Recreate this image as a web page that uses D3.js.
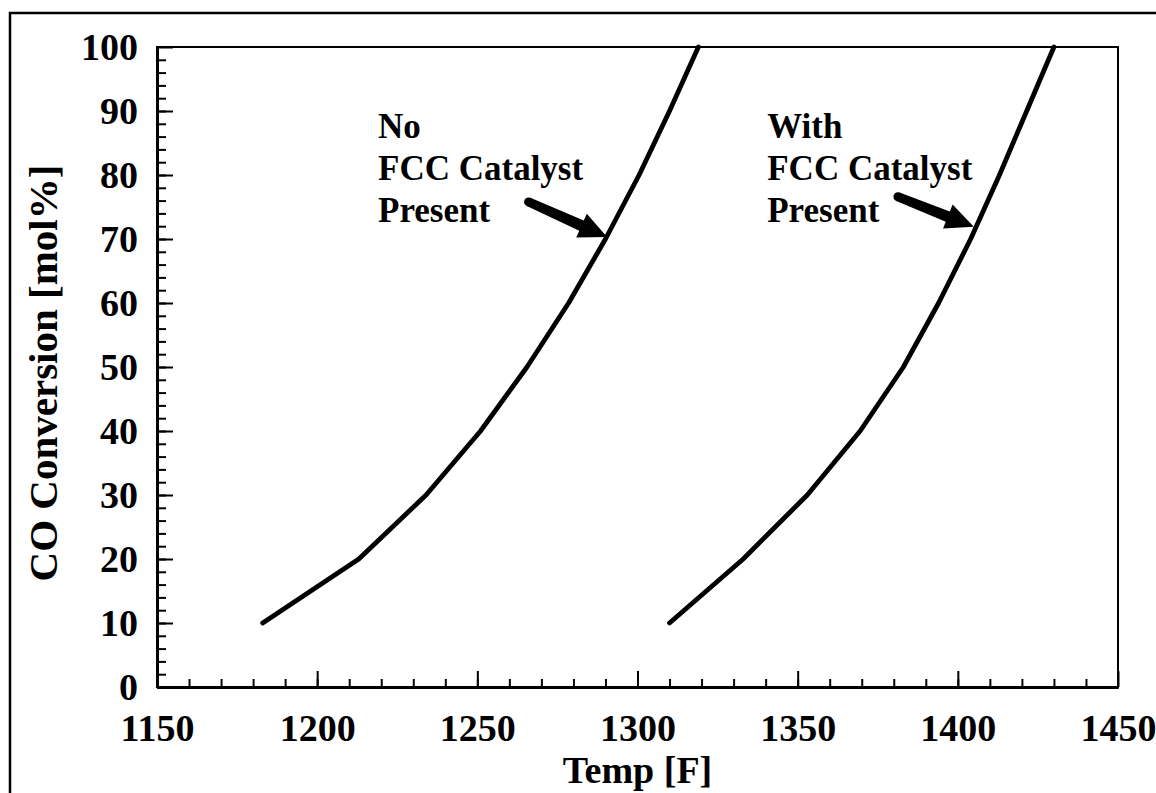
<!DOCTYPE html>
<html>
<head>
<meta charset="utf-8">
<script src="https://cdn.jsdelivr.net/npm/d3@7"></script>
<style>
  body { margin: 0; background: #fff; }
  text { font-family: "Liberation Serif", "Times New Roman", serif; font-weight: bold; fill: #000; }
</style>
</head>
<body>
<svg id="chart" width="1156" height="793"></svg>
<script>
// CO conversion vs. temperature, with and without FCC catalyst
const convLevels = [10, 20, 30, 40, 50, 60, 70, 80, 90, 100];
const tempNoCatalyst = [1183, 1213, 1234, 1251, 1265.5, 1278.5, 1290, 1300.5, 1310, 1319];
const tempWithCatalyst = [1310, 1333, 1353, 1369.5, 1383, 1394, 1404, 1413, 1421.5, 1430];

const xTickValues = [1150, 1200, 1250, 1300, 1350, 1400, 1450];
const yTickValues = [0, 10, 20, 30, 40, 50, 60, 70, 80, 90, 100];

const noteNoLines = ["No", "FCC Catalyst", "Present"];
const noteWithLines = ["With", "FCC Catalyst", "Present"];

const xTitle = "Temp [F]";
const yTitle = "CO Conversion [mol%]";

const svg = d3.select("#chart");
const margin = { left: 157, right: 38, top: 47, bottom: 106 };
const W = 1156, H = 793;

const x = d3.scaleLinear().domain([1150, 1450]).range([margin.left, W - margin.right]);
const y = d3.scaleLinear().domain([0, 100]).range([H - margin.bottom, margin.top]);

// outer frame
svg.append("rect")
  .attr("x", 10).attr("y", 13)
  .attr("width", W + 20).attr("height", H + 20)
  .attr("fill", "none").attr("stroke", "#000").attr("stroke-width", 2.5);

// plot frame
svg.append("rect")
  .attr("x", x(1150)).attr("y", y(100))
  .attr("width", x(1450) - x(1150)).attr("height", y(0) - y(100))
  .attr("fill", "none").attr("stroke", "#000").attr("stroke-width", 2);

// minor ticks
const xMinor = d3.axisBottom(x).tickValues(d3.range(1160, 1450, 10)).tickSize(-8).tickSizeOuter(0).tickFormat("");
const yMinor = d3.axisLeft(y).tickValues(d3.range(2, 100, 2)).tickSize(-9).tickSizeOuter(0).tickFormat("");
svg.append("g").attr("transform", `translate(0,${y(0)})`).call(xMinor);
svg.append("g").attr("transform", `translate(${x(1150)},0)`).call(yMinor);

// major ticks with labels
const xAxis = d3.axisBottom(x).tickValues(xTickValues).tickSize(-16).tickSizeOuter(0).tickPadding(20).tickFormat(d3.format("d"));
const yAxis = d3.axisLeft(y).tickValues(yTickValues).tickSize(-16).tickSizeOuter(0).tickPadding(19).tickFormat(d3.format("d"));
const gx = svg.append("g").attr("transform", `translate(0,${y(0)})`).call(xAxis);
const gy = svg.append("g").attr("transform", `translate(${x(1150)},0)`).call(yAxis);

svg.selectAll(".tick line").attr("stroke", "#000").attr("stroke-width", 2);
svg.selectAll(".domain").attr("stroke", "#000").attr("stroke-width", 3);
gx.selectAll("text").attr("font-size", 38).attr("font-family", null).attr("fill", "#000").attr("dy", "0.9em");
gy.selectAll("text").attr("font-size", 38).attr("font-family", null).attr("fill", "#000").attr("dy", "0.34em");

// axis titles
svg.append("text")
  .attr("x", (x(1150) + x(1450)) / 2).attr("y", 783)
  .attr("text-anchor", "middle").attr("font-size", 38)
  .text(xTitle);
svg.append("text")
  .attr("transform", `translate(57,${(y(0) + y(100)) / 2 + 6}) rotate(-90)`)
  .attr("text-anchor", "middle").attr("font-size", 41)
  .text(yTitle);

// conversion curves (straight segments between points)
const line = d3.line().x(d => x(d[0])).y(d => y(d[1]));
[tempNoCatalyst, tempWithCatalyst].forEach(temps => {
  svg.append("path")
    .datum(temps.map((t, i) => [t, convLevels[i]]))
    .attr("d", line)
    .attr("fill", "none").attr("stroke", "#000")
    .attr("stroke-width", 4.8).attr("stroke-linejoin", "round").attr("stroke-linecap", "round");
});

// annotation text blocks
function note(lines, left, baseline) {
  const t = svg.append("text").attr("font-size", 35);
  lines.forEach((s, i) => {
    t.append("tspan").attr("x", left).attr("y", baseline + i * 42).text(s);
  });
}
note(noteNoLines, x(1219), 138);
note(noteWithLines, x(1340.5), 138);

// thick arrows pointing at each curve
function arrow(tail, tip) {
  const [x0, y0] = [x(tail[0]), y(tail[1])];
  const [x1, y1] = [x(tip[0]), y(tip[1])];
  const dx = x1 - x0, dy = y1 - y0, len = Math.hypot(dx, dy);
  const ux = dx / len, uy = dy / len, nx = -uy, ny = ux;
  const headLen = 28, headHalf = 13, shaftTail = 4.5, shaftHead = 5.5;
  const bx = x1 - ux * headLen, by = y1 - uy * headLen;
  const pts = [
    [x0 + nx * shaftTail, y0 + ny * shaftTail],
    [bx + nx * shaftHead, by + ny * shaftHead],
    [bx + nx * headHalf, by + ny * headHalf],
    [x1, y1],
    [bx - nx * headHalf, by - ny * headHalf],
    [bx - nx * shaftHead, by - ny * shaftHead],
    [x0 - nx * shaftTail, y0 - ny * shaftTail]
  ];
  svg.append("polygon").attr("points", pts.map(p => p.join(",")).join(" ")).attr("fill", "#000");
  svg.append("circle").attr("cx", x0).attr("cy", y0).attr("r", shaftTail).attr("fill", "#000");
}
arrow([1266, 75.8], [1290.5, 70.3]);
arrow([1381.3, 76.6], [1405, 71.9]);
</script>
</body>
</html>
